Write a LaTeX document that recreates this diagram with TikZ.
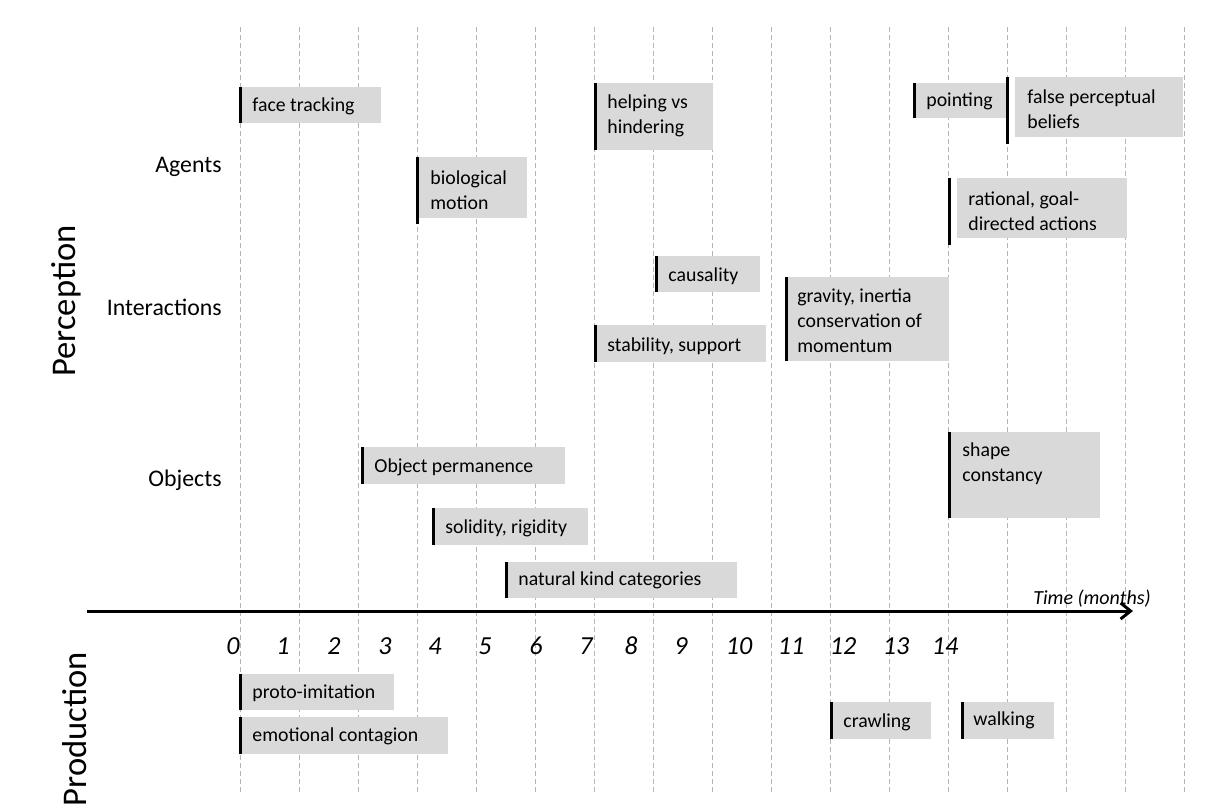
\documentclass[tikz,border=0pt]{standalone}
\usepackage{fontspec}
\setmainfont{Carlito}
\usepackage{tikz}
\usepackage{xcolor}
\usetikzlibrary{arrows.meta}

\definecolor{boxgray}{HTML}{D9D9D9}
\definecolor{gridgray}{HTML}{B4B4B4}

\tikzset{
  evtext/.style={anchor=west, inner sep=0pt, align=left, font=\fontsize{9.9}{12.4}\selectfont},
  evbar/.style={line width=1.5pt},
  catlabel/.style={anchor=east, inner sep=0pt, font=\fontsize{11.9}{14}\selectfont},
  monthlabel/.style={inner sep=0pt, font=\fontsize{13}{15}\selectfont\itshape},
  sidelabel/.style={rotate=90, inner sep=0pt, font=\fontsize{17.3}{19}\selectfont}
}

\begin{document}
\begin{tikzpicture}[x=0.5pt, y=-0.5pt]
	\useasboundingbox (0,0) rectangle (1206,810);

	% Dashed month grid
	\foreach \k in {0,...,16}
		\draw[gridgray, line width=0.4pt, dash pattern=on 2.5pt off 1.5pt] (240+59*\k,27) -- (240+59*\k,795);

	% Side labels
	\node[sidelabel] (perception) at (66,301) {Perception};
	\node[sidelabel] (production) at (75,729) {Production};

	% Categories
	\node[catlabel] (agents) at (222,167) {Agents};
	\node[catlabel] (interactions) at (222,307) {Interactions};
	\node[catlabel] (objects) at (222,480) {Objects};

	% Agents
	\fill[boxgray] (240,87) rectangle (381,123);
	\draw[evbar] (240,87) -- (240,123);
	\node[evtext] (face) at (252,106) {face tracking};

	\fill[boxgray] (595,83) rectangle (713,150);
	\draw[evbar] (595,83) -- (595,150);
	\node[evtext] (helping) at (607,116) {helping vs\\hindering};

	\fill[boxgray] (914,83) rectangle (1007,118);
	\draw[evbar] (914,83) -- (914,118);
	\node[evtext] (pointing) at (926,101) {pointing};

	\fill[boxgray] (1015,77) rectangle (1183,137);
	\draw[evbar] (1007,77) -- (1007,144);
	\node[evtext] (falsebelief) at (1027,109) {false perceptual\\beliefs};

	\fill[boxgray] (417,157) rectangle (527,218);
	\draw[evbar] (417,157) -- (417,224);
	\node[evtext] (biomotion) at (430,190) {biological\\motion};

	\fill[boxgray] (957,178) rectangle (1127,238);
	\draw[evbar] (949,178) -- (949,245);
	\node[evtext] (rational) at (968,211) {rational, goal-\\directed actions};

	% Interactions
	\fill[boxgray] (656,256) rectangle (760,292);
	\draw[evbar] (656,256) -- (656,292);
	\node[evtext] (causality) at (668,276) {causality};

	\fill[boxgray] (595,325) rectangle (766,362);
	\draw[evbar] (595,325) -- (595,362);
	\node[evtext] (stability) at (607,346) {stability, support};

	\fill[boxgray] (786,277) rectangle (949,361);
	\draw[evbar] (786,277) -- (786,361);
	\node[evtext] (gravity) at (797,321) {gravity, inertia\\conservation of\\momentum};

	% Objects
	\fill[boxgray] (362,447) rectangle (565,484);
	\draw[evbar] (362,447) -- (362,484);
	\node[evtext] (permanence) at (374,467) {Object permanence};

	\fill[boxgray] (949,432) rectangle (1100,518);
	\draw[evbar] (949,432) -- (949,518);
	\node[evtext] (shape) at (962,464) {shape\\constancy};

	\fill[boxgray] (433,508) rectangle (588,545);
	\draw[evbar] (433,508) -- (433,545);
	\node[evtext] (solidity) at (445,528) {solidity, rigidity};

	\fill[boxgray] (506,562) rectangle (737,598);
	\draw[evbar] (506,562) -- (506,598);
	\node[evtext] (natkind) at (518,580) {natural kind categories};

	% Time axis
	\coordinate (axisstart) at (87,611);
	\coordinate (axisend) at (1133,611);
	\draw[line width=1.5pt, -{Straight Barb[length=5pt, width=8pt]}] (axisstart) -- (axisend);
	\node[inner sep=0pt, font=\fontsize{10}{12}\selectfont\itshape] (timelabel) at (1092,599) {Time (months)};

	% Month numbers
	\foreach \m/\x in {0/233,1/283,2/334,3/385,4/435,5/485,6/536,7/586,8/631,9/681,10/739,11/791,12/843,13/896,14/945}
		\node[monthlabel] (m\m) at (\x,646) {\m};

	% Production
	\fill[boxgray] (240,674) rectangle (394,710);
	\draw[evbar] (240,674) -- (240,710);
	\node[evtext] (protoimit) at (252,693) {proto-imitation};

	\fill[boxgray] (240,717) rectangle (448,754);
	\draw[evbar] (240,717) -- (240,754);
	\node[evtext] (contagion) at (252,736) {emotional contagion};

	\fill[boxgray] (831,702) rectangle (931,739);
	\draw[evbar] (831,702) -- (831,739);
	\node[evtext] (crawling) at (843,722) {crawling};

	\fill[boxgray] (962,702) rectangle (1054,739);
	\draw[evbar] (962,702) -- (962,739);
	\node[evtext] (walking) at (973,720) {walking};
\end{tikzpicture}
\end{document}
